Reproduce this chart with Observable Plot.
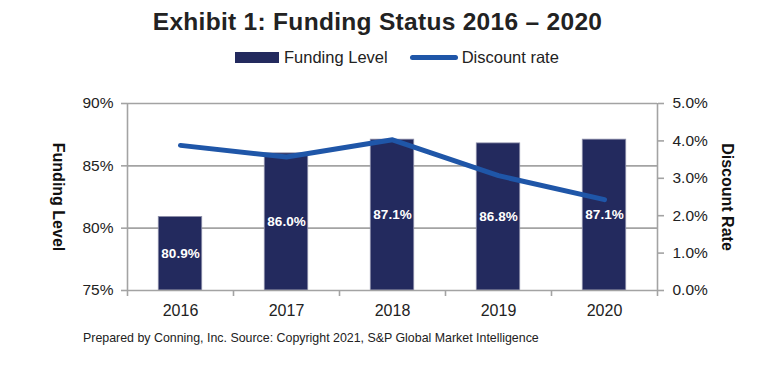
<!DOCTYPE html>
<html>
<head>
<meta charset="utf-8">
<script src="https://cdn.jsdelivr.net/npm/d3@7"></script>
<script src="https://cdn.jsdelivr.net/npm/@observablehq/plot@0.6"></script>
<style>
  html, body { margin: 0; padding: 0; background: #fff; }
  #wrap { position: relative; width: 771px; height: 371px; font-family: "Liberation Sans", Arial, sans-serif; color: #222; }
  #title { position: absolute; left: -8px; width: 771px; top: 8px; text-align: center; font-weight: bold; font-size: 24.5px; letter-spacing: 0.3px; }
  #legend { position: absolute; top: 48px; left: 235px; font-size: 16.5px; display: flex; align-items: center; white-space: nowrap; }
  .sw-bar { display: inline-block; width: 44px; height: 11px; background: #232a5e; margin-right: 5px; }
  .sw-line { display: inline-block; width: 48px; height: 5px; border-radius: 3px; background: #1f56a8; margin-left: 22px; margin-right: 4px; }
  #caption { position: absolute; top: 331px; left: 83px; font-size: 12.4px; color: #222; }
  #chart { position: absolute; left: 0; top: 0; }
  #chart svg { overflow: visible; }
</style>
</head>
<body>
<div id="wrap">
  <div id="chart"></div>
  <div id="title">Exhibit 1: Funding Status 2016 – 2020</div>
  <div id="legend"><span class="sw-bar"></span>Funding Level<span class="sw-line"></span>Discount rate</div>
  <div id="caption">Prepared by Conning, Inc. Source: Copyright 2021, S&amp;P Global Market Intelligence</div>
</div>
<script>
const years = ["2016", "2017", "2018", "2019", "2020"];
const fundingLevel = [80.9, 86.0, 87.1, 86.8, 87.1];
const discountRate = [3.88, 3.57, 4.03, 3.07, 2.43];
const leftTicks = [75, 80, 85, 90];
const rightTicks = [0, 1, 2, 3, 4, 5];

// map the discount rate (0–5%) onto the funding scale (75–90%)
const rateToY = r => 75 + r * 3;
const data = years.map((y, i) => ({i, year: y, level: fundingLevel[i], rate: discountRate[i]}));
const half = 0.205;

const chart = Plot.plot({
  width: 771,
  height: 371,
  marginLeft: 127,
  marginRight: 114,
  marginTop: 103,
  marginBottom: 81,
  style: {fontFamily: "Liberation Sans, Arial, sans-serif", fontSize: "15px", color: "#222"},
  x: {domain: [-0.5, years.length - 0.5], axis: null},
  y: {domain: [75, 90], axis: null},
  marks: [
    Plot.ruleY([80, 85, 90], {stroke: "#a3a3a3", strokeWidth: 1.6}),
    Plot.rectY(data, {x1: d => d.i - half, x2: d => d.i + half, y1: 75, y2: "level", fill: "#232a5e", stroke: "#8e90aa", strokeWidth: 0.8}),
    Plot.line(data, {x: "i", y: d => rateToY(d.rate), stroke: "#1f56a8", strokeWidth: 5, strokeLinecap: "round", strokeLinejoin: "round"}),
    Plot.text(data, {x: "i", y: d => (75 + d.level) / 2, text: d => d.level.toFixed(1) + "%", fill: "white", fontWeight: "bold", fontSize: 13.5}),
    Plot.ruleX([-0.5], {stroke: "#a3a3a3", strokeWidth: 1.6}),
    Plot.ruleX([years.length - 0.5], {stroke: "#a3a3a3", strokeWidth: 1.6}),
    Plot.ruleY([75], {stroke: "#a3a3a3", strokeWidth: 1.6}),
    Plot.axisY({anchor: "left", ticks: leftTicks, tickFormat: d => d + "%", tickSize: 6, tickPadding: 8, label: null, fontSize: 15.5}),
    Plot.axisY({anchor: "right", ticks: rightTicks.map(rateToY), tickFormat: v => ((v - 75) / 3).toFixed(1) + "%", tickSize: 6, tickPadding: 9, label: null, fontSize: 15.5}),
    Plot.axisX({ticks: d3.range(-0.5, years.length, 1), tickFormat: () => "", tickSize: 6, label: null}),
    Plot.axisX({ticks: d3.range(0, years.length), tickFormat: i => years[i], tickSize: 0, tickPadding: 14, label: null, fontSize: 16}),
    Plot.text(["Funding Level"], {frameAnchor: "left", textAnchor: "middle", dx: -69, rotate: 90, fontWeight: "bold", fontSize: 16, fill: "#111"}),
    Plot.text(["Discount Rate"], {frameAnchor: "right", textAnchor: "middle", dx: 70, rotate: 90, fontWeight: "bold", fontSize: 16, fill: "#111"})
  ]
});
chart.querySelectorAll("[aria-label='y-axis tick'], [aria-label='x-axis tick']").forEach(g => { g.setAttribute("stroke", "#a3a3a3"); g.setAttribute("stroke-width", "1.6"); });
document.getElementById("chart").append(chart);
</script>
</body>
</html>
